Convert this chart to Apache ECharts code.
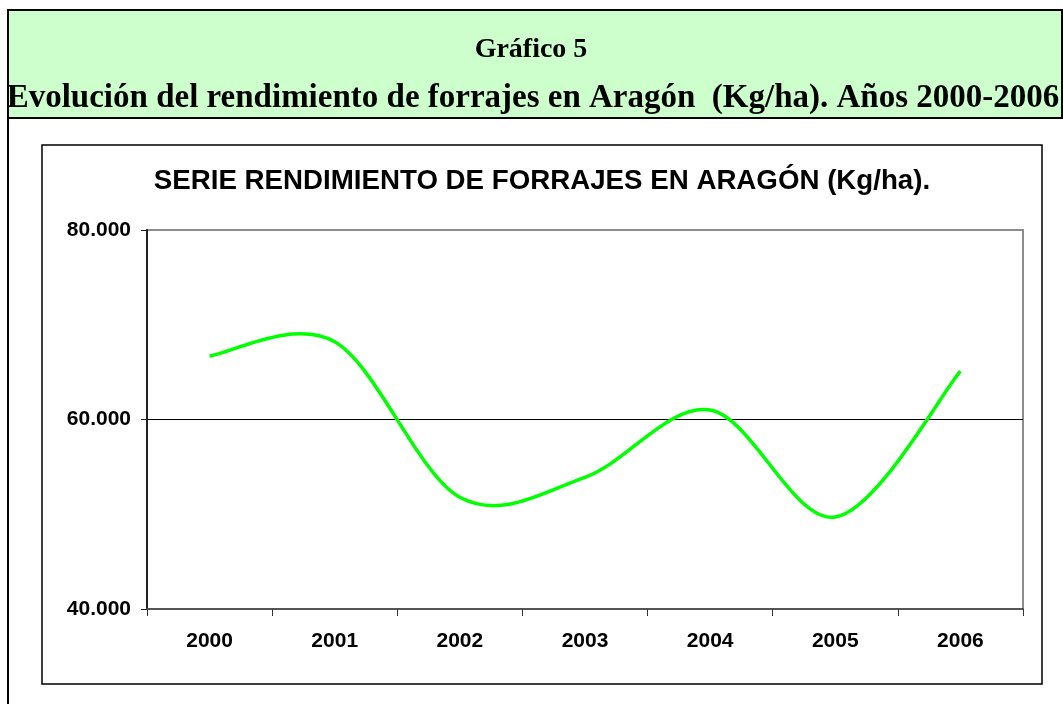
<!DOCTYPE html>
<html>
<head>
<meta charset="utf-8">
<script src="https://cdn.jsdelivr.net/npm/echarts@6/dist/echarts.min.js"></script>
<style>
  html, body { margin: 0; padding: 0; background: #ffffff; }
  #chart { width: 1063px; height: 704px; }
</style>
</head>
<body>
<div id="chart"></div>
<script>
const headerTitle = 'Gráfico 5';
const headerSubtitle = 'Evolución del rendimiento de forrajes en Aragón  (Kg/ha). Años 2000-2006';
const chartTitle = 'SERIE RENDIMIENTO DE FORRAJES EN ARAGÓN (Kg/ha).';
const years = ['2000', '2001', '2002', '2003', '2004', '2005', '2006'];
const rendimiento = [66700, 68200, 51800, 53900, 61000, 49700, 65100];
const yTicks = [40000, 60000, 80000];

function fmtThousands(v) {
  const k = Math.floor(v / 1000);
  const r = String(Math.round(v % 1000)).padStart(3, '0');
  return k + '.' + r;
}

// Excel-like smoothed line (Catmull-Rom Bezier through the data points), drawn via axis coords
function renderSmoothLine(params, api) {
  if (params.dataIndex !== 0) return null;
  const pts = rendimiento.map((v, i) => api.coord([i, v]));
  const n = pts.length;
  let d = 'M' + pts[0][0] + ' ' + pts[0][1];
  for (let i = 0; i < n - 1; i++) {
    const p0 = pts[Math.max(i - 1, 0)];
    const p1 = pts[i];
    const p2 = pts[i + 1];
    const p3 = pts[Math.min(i + 2, n - 1)];
    const c1x = p1[0] + (p2[0] - p0[0]) / 6;
    const c1y = p1[1] + (p2[1] - p0[1]) / 6;
    const c2x = p2[0] - (p3[0] - p1[0]) / 6;
    const c2y = p2[1] - (p3[1] - p1[1]) / 6;
    d += ' C' + c1x + ' ' + c1y + ' ' + c2x + ' ' + c2y + ' ' + p2[0] + ' ' + p2[1];
  }
  return {
    type: 'path',
    shape: { pathData: d },
    style: { fill: 'none', stroke: '#00FF00', lineWidth: 3.5, lineJoin: 'round', lineCap: 'butt' }
  };
}

const chart = echarts.init(document.getElementById('chart'), null, { renderer: 'canvas' });
chart.setOption({
  animation: false,
  backgroundColor: '#ffffff',
  graphic: [
    { type: 'line', shape: { x1: 8, y1: 10, x2: 8, y2: 704 }, style: { stroke: '#000', lineWidth: 2 }, z: 0 },
    { type: 'rect', shape: { x: 8, y: 10, width: 1054, height: 108 }, style: { fill: '#CCFFCC', stroke: '#000', lineWidth: 2 }, z: 0 },
    { type: 'rect', shape: { x: 42, y: 145, width: 1000, height: 539 }, style: { fill: 'none', stroke: '#000', lineWidth: 1.5 }, z: 0 },
    { type: 'text', x: 531, y: 50, style: { text: headerTitle, font: 'bold 28px "Liberation Serif", "Times New Roman", serif', fill: '#000', textAlign: 'center', textVerticalAlign: 'middle' }, z: 5 },
    { type: 'text', x: 533, y: 98, style: { text: headerSubtitle, font: 'bold 33px "Liberation Serif", "Times New Roman", serif', fill: '#000', textAlign: 'center', textVerticalAlign: 'middle' }, z: 5 },
    { type: 'text', x: 542, y: 181, style: { text: chartTitle, font: 'bold 27.7px "Liberation Sans", Arial, sans-serif', fill: '#000', textAlign: 'center', textVerticalAlign: 'middle' }, z: 5 }
  ],
  grid: {
    left: 147, right: 40, top: 230, bottom: 95,
    show: true, borderColor: '#8c8c8c', borderWidth: 2, backgroundColor: '#ffffff'
  },
  xAxis: {
    type: 'category',
    data: years,
    boundaryGap: true,
    axisLine: { show: true, lineStyle: { color: '#555', width: 2 } },
    axisTick: { show: true, inside: false, length: 7, lineStyle: { color: '#333', width: 1 } },
    axisLabel: { margin: 22, color: '#000', fontSize: 21, fontWeight: 'bold', fontFamily: '"Liberation Sans", Arial, sans-serif' },
    splitLine: { show: false }
  },
  yAxis: {
    type: 'value',
    min: yTicks[0], max: yTicks[yTicks.length - 1], interval: yTicks[1] - yTicks[0],
    axisLine: { show: true, lineStyle: { color: '#222', width: 2 } },
    axisTick: { show: true, inside: false, length: 6, lineStyle: { color: '#222', width: 1 } },
    axisLabel: { margin: 16, color: '#000', fontSize: 21, fontWeight: 'bold', fontFamily: '"Liberation Sans", Arial, sans-serif', formatter: fmtThousands },
    splitLine: { show: true, lineStyle: { color: ['#000', '#000', '#8c8c8c'], width: 1 } }
  },
  series: [{
    type: 'custom',
    data: rendimiento.map((v, i) => [i, v]),
    encode: { x: 0, y: 1 },
    renderItem: renderSmoothLine,
    clip: false,
    z: 10
  }]
});
</script>
</body>
</html>
